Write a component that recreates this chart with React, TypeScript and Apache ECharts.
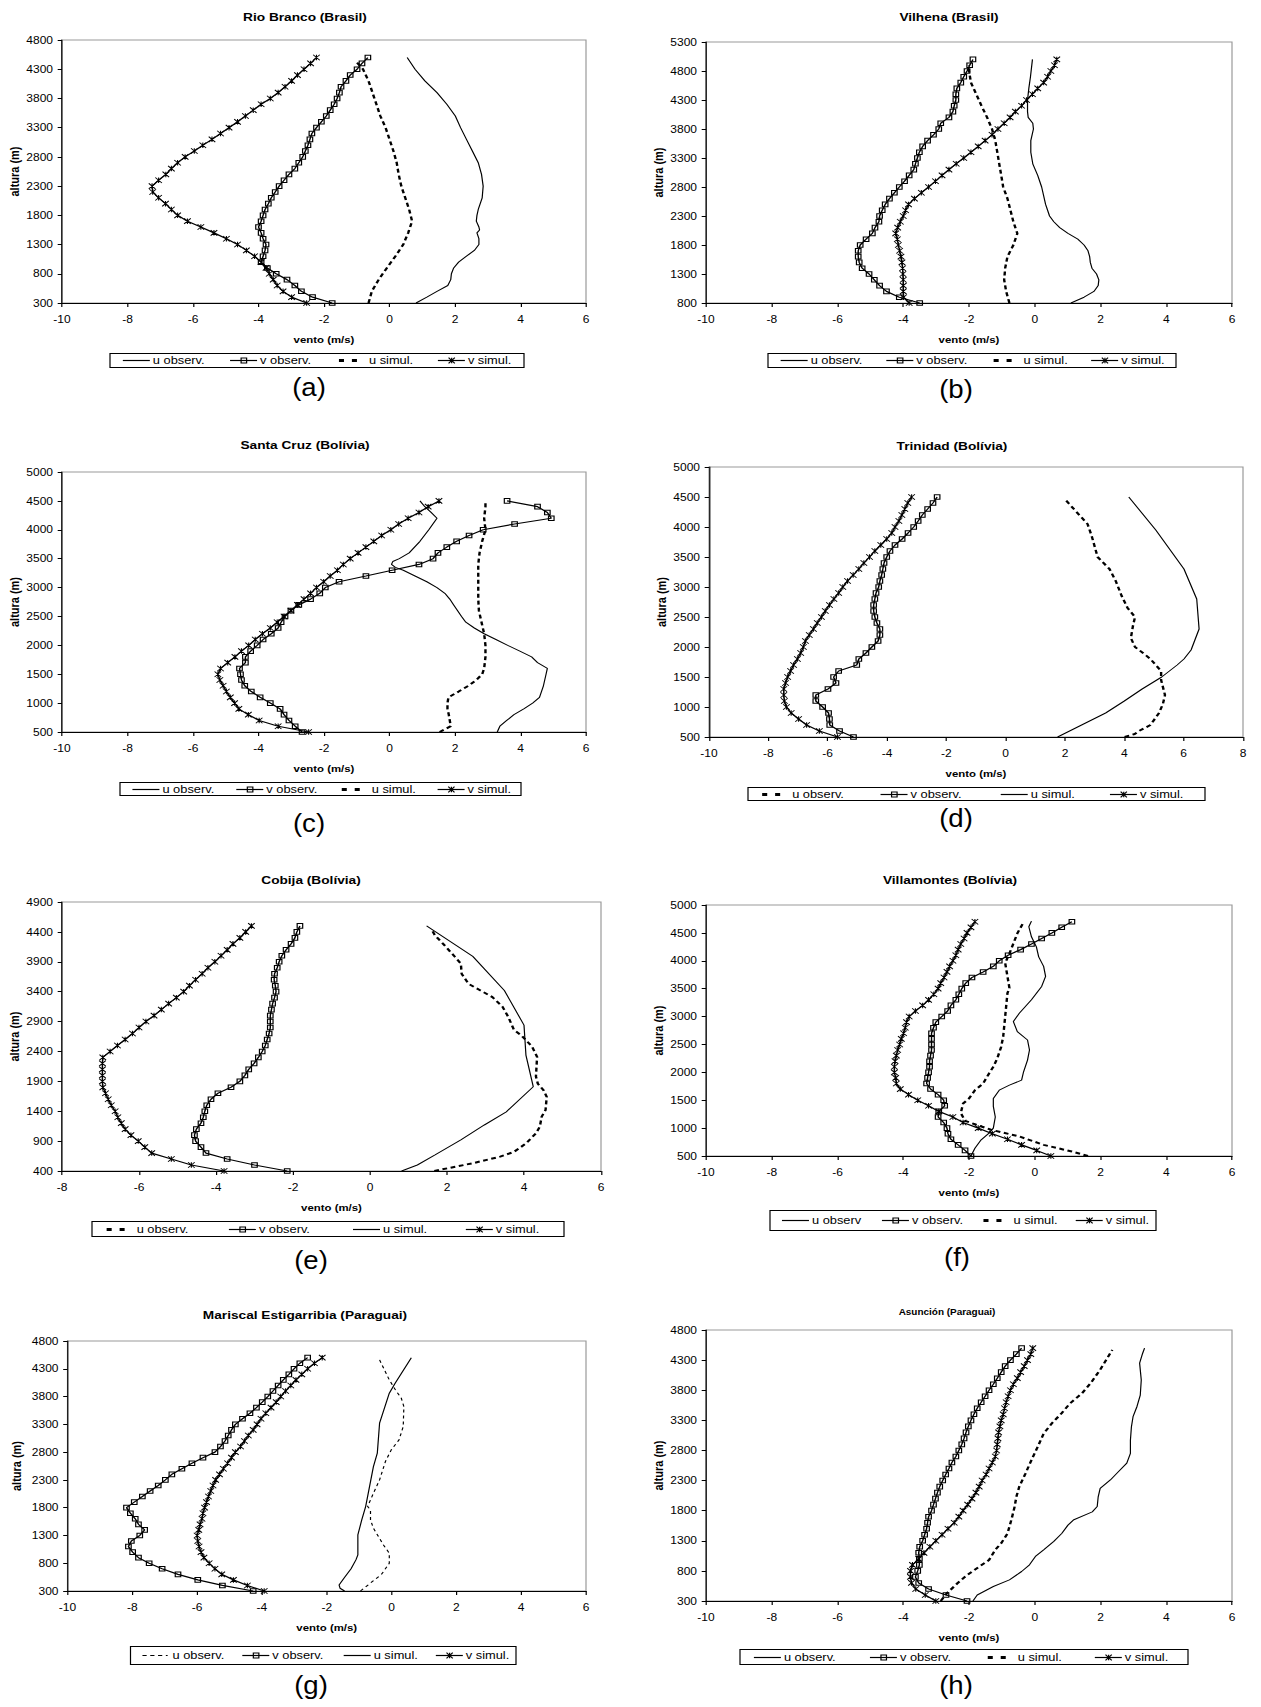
import React, { useEffect, useRef } from "react";
import * as echarts from "echarts";

// ---------- shared height lists (m) ----------
const H300_4500 = [300,400,500,600,700,800,900,1000,1100,1200,1300,1400,1500,1600,1700,1800,1900,2000,2100,2200,2300,2400,2500,2600,2700,2800,2900,3000,3100,3200,3300,3400,3500,3600,3700,3800,3900,4000,4100,4200,4300,4400,4500];
const H500_4500 = [500,600,700,800,900,1000,1100,1200,1300,1400,1500,1600,1700,1800,1900,2000,2100,2200,2300,2400,2500,2600,2700,2800,2900,3000,3100,3200,3300,3400,3500,3600,3700,3800,3900,4000,4100,4200,4300,4400,4500];
const H800_5000 = [800,900,1000,1100,1200,1300,1400,1500,1600,1700,1800,1900,2000,2100,2200,2300,2400,2500,2600,2700,2800,2900,3000,3100,3200,3300,3400,3500,3600,3700,3800,3900,4000,4100,4200,4300,4400,4500,4600,4700,4800,4900,5000];
const H400_4500 = [400,500,600,700,800,900,1000,1100,1200,1300,1400,1500,1600,1700,1800,1900,2000,2100,2200,2300,2400,2500,2600,2700,2800,2900,3000,3100,3200,3300,3400,3500,3600,3700,3800,3900,4000,4100,4200,4300,4400,4500];
const H500_4700 = [500,600,700,800,900,1000,1100,1200,1300,1400,1500,1600,1700,1800,1900,2000,2100,2200,2300,2400,2500,2600,2700,2800,2900,3000,3100,3200,3300,3400,3500,3600,3700,3800,3900,4000,4100,4200,4300,4400,4500,4600,4700];

// ---------- (a) Rio Branco ----------
const A_UOBS_H = [300,400,500,600,700,800,900,1000,1100,1200,1300,1400,1500,1550,1600,1700,1800,1900,2000,2100,2300,2500,2700,2900,3100,3300,3500,3700,3900,4100,4300,4500];
const A_UOBS = [0.81,1.14,1.45,1.78,1.87,1.89,1.96,2.11,2.35,2.59,2.73,2.73,2.67,2.75,2.73,2.65,2.67,2.71,2.77,2.83,2.86,2.81,2.71,2.53,2.35,2.17,2.01,1.75,1.45,1.08,0.78,0.54];
const A_VOBS = [-1.75,-2.35,-2.69,-2.89,-3.13,-3.46,-3.73,-3.92,-3.86,-3.80,-3.77,-3.86,-3.92,-4.0,-3.92,-3.86,-3.80,-3.70,-3.61,-3.49,-3.37,-3.22,-3.07,-2.89,-2.77,-2.65,-2.57,-2.49,-2.43,-2.37,-2.23,-2.08,-1.93,-1.81,-1.69,-1.60,-1.53,-1.48,-1.33,-1.20,-0.99,-0.84,-0.66];
const A_USIM_H = [300,500,700,900,1100,1300,1500,1700,1900,2100,2300,2500,2700,2900,3100,3300,3500,3700,3900,4100,4300,4450];
const A_USIM = [-0.64,-0.54,-0.33,-0.08,0.18,0.42,0.57,0.69,0.60,0.48,0.36,0.28,0.22,0.12,0,-0.12,-0.28,-0.40,-0.52,-0.64,-0.81,-1.05];
const A_VSIM = [-2.53,-2.99,-3.25,-3.43,-3.55,-3.67,-3.77,-3.92,-4.12,-4.37,-4.64,-4.98,-5.36,-5.76,-6.17,-6.47,-6.66,-6.84,-7.05,-7.23,-7.25,-7.05,-6.83,-6.66,-6.47,-6.24,-5.96,-5.70,-5.42,-5.16,-4.90,-4.64,-4.40,-4.16,-3.92,-3.64,-3.40,-3.19,-2.99,-2.81,-2.61,-2.41,-2.23];

// ---------- (b) Vilhena ----------
const B_UOBS_H = [800,900,1000,1100,1200,1300,1400,1500,1600,1700,1800,1900,2000,2100,2200,2300,2500,2800,3000,3200,3400,3600,3800,3900,4000,4100,4300,4500,4700,5000];
const B_UOBS = [1.10,1.50,1.80,1.93,1.95,1.88,1.74,1.69,1.67,1.62,1.50,1.31,1.01,0.76,0.58,0.45,0.33,0.21,0.09,-0.06,-0.12,-0.12,-0.04,-0.06,-0.20,-0.22,-0.22,-0.18,-0.13,-0.07];
const B_VOBS = [-3.50,-4.12,-4.51,-4.72,-4.88,-5.04,-5.25,-5.34,-5.37,-5.37,-5.31,-5.13,-4.94,-4.86,-4.74,-4.72,-4.64,-4.55,-4.42,-4.27,-4.12,-3.96,-3.82,-3.68,-3.63,-3.57,-3.51,-3.41,-3.26,-3.08,-2.92,-2.86,-2.61,-2.49,-2.45,-2.40,-2.40,-2.37,-2.25,-2.16,-2.06,-1.98,-1.88];
const B_USIM_H = [800,1000,1200,1400,1600,1800,2000,2200,2400,2600,2800,3000,3200,3400,3600,3800,4000,4200,4400,4600,4800,4900];
const B_USIM = [-0.77,-0.87,-0.93,-0.90,-0.83,-0.65,-0.53,-0.65,-0.74,-0.83,-0.96,-1.02,-1.08,-1.14,-1.20,-1.30,-1.45,-1.62,-1.78,-1.94,-2.0,-2.0];
const B_VSIM = [-3.82,-3.99,-4.0,-4.0,-4.0,-4.01,-4.02,-4.04,-4.07,-4.11,-4.15,-4.18,-4.23,-4.17,-4.09,-4.0,-3.93,-3.84,-3.66,-3.45,-3.23,-3.02,-2.82,-2.61,-2.39,-2.16,-1.94,-1.72,-1.51,-1.30,-1.12,-0.93,-0.75,-0.59,-0.40,-0.25,-0.07,0.09,0.27,0.39,0.49,0.60,0.67];

// ---------- (c) Santa Cruz ----------
const C_UOBS_H = [500,600,700,800,900,1000,1100,1200,1300,1400,1500,1600,1700,1800,1900,2000,2100,2200,2300,2400,2500,2600,2700,2800,2900,3000,3100,3200,3300,3350,3400,3450,3500,3600,3800,4000,4200,4300,4400,4500];
const C_UOBS = [3.29,3.37,3.58,3.80,4.10,4.37,4.58,4.64,4.70,4.74,4.78,4.82,4.52,4.34,3.98,3.61,3.25,2.89,2.59,2.33,2.20,2.08,1.96,1.84,1.69,1.45,1.14,0.78,0.42,0.18,0.06,0.10,0.30,0.60,0.93,1.20,1.45,1.27,1.08,0.93];
const C_VOBS = [-2.67,-2.88,-3.07,-3.22,-3.34,-3.64,-3.95,-4.22,-4.42,-4.52,-4.55,-4.58,-4.40,-4.40,-4.24,-4.04,-3.86,-3.61,-3.40,-3.31,-3.19,-3.01,-2.77,-2.41,-2.13,-1.96,-1.54,-0.72,0.08,0.90,1.33,1.48,1.75,2.05,2.43,2.86,3.82,4.94,4.82,4.52,3.59];
const C_USIM_H = [500,550,600,700,800,900,1000,1100,1200,1300,1400,1500,1600,1800,2000,2200,2400,2600,2800,3000,3200,3400,3600,3800,4000,4200,4400,4500];
const C_USIM = [1.53,1.70,1.87,1.84,1.81,1.77,1.77,1.80,2.11,2.41,2.65,2.83,2.89,2.93,2.93,2.89,2.81,2.73,2.71,2.71,2.71,2.71,2.75,2.83,2.93,2.89,2.93,2.93];
const C_VSIM = [-2.47,-3.40,-3.98,-4.31,-4.60,-4.73,-4.86,-4.98,-5.08,-5.18,-5.24,-5.16,-4.94,-4.72,-4.52,-4.30,-4.10,-3.88,-3.64,-3.43,-3.22,-3.01,-2.81,-2.61,-2.41,-2.23,-2.01,-1.81,-1.59,-1.41,-1.20,-0.96,-0.72,-0.48,-0.24,0.04,0.28,0.57,0.90,1.18,1.51];

// ---------- (d) Trinidad ----------
const D_UOBS_H = [500,550,600,700,900,1050,1200,1450,1600,1800,1900,2000,2150,2350,2500,2650,2850,3100,3300,3500,3850,4050,4450];
const D_UOBS = [4.01,4.35,4.49,4.88,5.17,5.30,5.37,5.24,5.24,4.88,4.63,4.36,4.22,4.29,4.36,4.11,3.91,3.71,3.50,3.10,2.90,2.76,2.02];
const D_VOBS = [-5.13,-5.60,-5.93,-5.94,-5.97,-6.17,-6.40,-6.40,-5.99,-5.72,-5.80,-5.63,-5.02,-4.95,-4.71,-4.51,-4.30,-4.24,-4.24,-4.34,-4.41,-4.45,-4.45,-4.41,-4.37,-4.28,-4.24,-4.18,-4.14,-4.10,-4.01,-3.90,-3.73,-3.49,-3.29,-3.10,-2.95,-2.81,-2.63,-2.45,-2.31];
const D_USIM_H = [500,700,900,1100,1300,1500,1700,1800,1950,2300,2800,3300,3950,4500];
const D_USIM = [1.75,2.56,3.37,4.0,4.6,5.26,5.78,6.01,6.25,6.52,6.44,6.01,5.06,4.15];
const D_VSIM = [-5.67,-6.28,-6.71,-6.98,-7.23,-7.39,-7.46,-7.48,-7.48,-7.42,-7.35,-7.25,-7.15,-7.02,-6.91,-6.82,-6.75,-6.62,-6.48,-6.35,-6.21,-6.08,-5.94,-5.79,-5.63,-5.49,-5.33,-5.14,-4.95,-4.78,-4.59,-4.41,-4.21,-4.01,-3.84,-3.73,-3.60,-3.50,-3.40,-3.30,-3.17];

// ---------- (e) Cobija ----------
const E_UOBS_H = [400,450,530,640,720,860,1030,1140,1310,1420,1640,1750,1860,1980,2310,2480,2590,2670,2760,2980,3150,3310,3420,3530,3700,3870,3980,4200,4340,4450];
const E_UOBS = [1.67,2.05,2.67,3.38,3.74,4.05,4.31,4.41,4.46,4.56,4.59,4.51,4.36,4.31,4.34,4.21,4.05,3.93,3.74,3.59,3.44,3.18,2.87,2.56,2.38,2.36,2.21,1.90,1.69,1.59];
const E_VOBS = [-2.15,-3.0,-3.71,-4.26,-4.39,-4.53,-4.56,-4.51,-4.39,-4.33,-4.29,-4.24,-4.13,-3.95,-3.61,-3.38,-3.25,-3.15,-3.01,-2.90,-2.80,-2.72,-2.67,-2.62,-2.59,-2.59,-2.59,-2.56,-2.53,-2.48,-2.44,-2.46,-2.49,-2.48,-2.41,-2.36,-2.29,-2.18,-2.05,-1.95,-1.90,-1.82];
const E_USIM_H = [400,500,670,920,1170,1390,1810,2340,2640,2840,3420,3990,4500];
const E_USIM = [0.82,1.23,1.69,2.36,2.97,3.54,4.24,4.05,4.02,4.0,3.49,2.67,1.47];
const E_VSIM = [-3.79,-4.64,-5.16,-5.67,-5.85,-6.02,-6.21,-6.36,-6.46,-6.55,-6.62,-6.72,-6.80,-6.87,-6.94,-6.95,-6.95,-6.95,-6.95,-6.94,-6.75,-6.56,-6.36,-6.17,-6.0,-5.82,-5.61,-5.42,-5.23,-5.03,-4.84,-4.69,-4.53,-4.36,-4.21,-4.03,-3.87,-3.71,-3.56,-3.38,-3.23,-3.08];

// ---------- (f) Villamontes ----------
const F_UOBS_H = [500,640,790,910,1000,1200,1390,1530,1680,1770,1860,2010,2220,2400,2580,2730,2910,3060,3300,3540,3720,3900,4070,4250,4430,4610,4710];
const F_UOBS = [-1.94,-1.82,-1.63,-1.39,-1.26,-1.20,-1.26,-1.26,-1.08,-0.77,-0.40,-0.34,-0.22,-0.16,-0.22,-0.53,-0.65,-0.47,-0.10,0.21,0.33,0.27,0.12,0.05,-0.10,-0.18,-0.10];
const F_VOBS = [-1.94,-2.12,-2.33,-2.55,-2.64,-2.67,-2.77,-2.94,-2.92,-2.74,-2.77,-2.94,-3.17,-3.29,-3.26,-3.23,-3.20,-3.20,-3.17,-3.14,-3.14,-3.14,-3.14,-3.08,-3.01,-2.83,-2.65,-2.55,-2.40,-2.31,-2.22,-2.10,-1.91,-1.57,-1.26,-1.08,-0.81,-0.43,-0.10,0.21,0.52,0.82,1.13];
const F_USIM_H = [500,580,700,850,970,1070,1130,1270,1440,1530,1680,1800,1980,2100,2250,2460,2640,3000,3420,3510,3720,3960,4130,4490,4660];
const F_USIM = [1.62,1.13,0.27,-0.47,-1.33,-1.82,-2.12,-2.25,-2.18,-2.0,-1.82,-1.57,-1.39,-1.26,-1.14,-1.02,-0.96,-0.90,-0.83,-0.77,-0.83,-0.90,-0.77,-0.53,-0.37];
const F_VSIM = [0.49,0.06,-0.40,-0.83,-1.29,-1.72,-2.18,-2.49,-2.92,-3.23,-3.56,-3.84,-4.09,-4.21,-4.23,-4.27,-4.27,-4.25,-4.21,-4.17,-4.11,-4.06,-3.99,-3.94,-3.90,-3.82,-3.63,-3.41,-3.23,-3.07,-2.94,-2.86,-2.76,-2.67,-2.59,-2.49,-2.40,-2.33,-2.25,-2.15,-2.06,-1.94,-1.82];

// ---------- (g) Mariscal Estigarribia ----------
const G_UOBS_H = [300,600,800,980,1130,1430,1580,1760,1820,2060,2300,2630,2840,3020,3260,3620,3770,3920,4100,4460];
const G_UOBS = [-0.96,-0.31,-0.07,-0.07,-0.25,-0.56,-0.65,-0.65,-0.74,-0.56,-0.37,-0.19,-0.01,0.23,0.36,0.38,0.30,0.12,-0.07,-0.37];
const G_VOBS = [-4.27,-5.22,-5.98,-6.59,-7.08,-7.48,-7.81,-7.99,-8.12,-8.03,-7.77,-7.62,-7.81,-7.91,-8.06,-8.18,-7.94,-7.69,-7.45,-7.20,-6.98,-6.78,-6.47,-6.16,-5.82,-5.45,-5.28,-5.14,-5.04,-4.94,-4.82,-4.60,-4.37,-4.17,-3.99,-3.82,-3.66,-3.50,-3.34,-3.17,-3.01,-2.83,-2.59];
const G_USIM_H = [300,350,410,530,700,860,950,1310,1580,1820,2180,2540,2780,3320,3500,3860,4040,4500];
const G_USIM = [-1.45,-1.59,-1.62,-1.47,-1.25,-1.10,-1.04,-1.04,-0.92,-0.80,-0.68,-0.56,-0.44,-0.37,-0.27,-0.07,0.11,0.61];
const G_VSIM = [-3.93,-4.45,-4.88,-5.24,-5.45,-5.63,-5.79,-5.88,-5.94,-5.98,-6.0,-5.95,-5.91,-5.85,-5.82,-5.77,-5.71,-5.65,-5.58,-5.51,-5.43,-5.31,-5.19,-5.06,-4.94,-4.82,-4.66,-4.54,-4.42,-4.27,-4.15,-4.03,-3.88,-3.72,-3.56,-3.42,-3.27,-3.11,-2.95,-2.77,-2.59,-2.38,-2.14];

// ---------- (h) Asunción ----------
const H_UOBS_H = [300,400,540,650,790,900,1040,1150,1290,1420,1560,1650,1780,1870,2030,2170,2310,2450,2590,2750,2970,3190,3360,3530,3720,3970,4250,4410,4500];
const H_UOBS = [-1.88,-1.75,-1.26,-0.77,-0.40,-0.16,0.02,0.27,0.58,0.82,1.01,1.19,1.75,1.90,1.93,1.99,2.30,2.55,2.80,2.91,2.91,2.94,2.99,3.11,3.21,3.24,3.19,3.28,3.34];
const H_VOBS = [-2.06,-2.70,-3.23,-3.53,-3.63,-3.56,-3.51,-3.51,-3.53,-3.50,-3.41,-3.35,-3.29,-3.26,-3.23,-3.14,-3.08,-3.02,-2.96,-2.89,-2.80,-2.71,-2.61,-2.52,-2.40,-2.31,-2.22,-2.15,-2.09,-2.02,-1.94,-1.85,-1.75,-1.63,-1.51,-1.39,-1.26,-1.14,-1.02,-0.90,-0.74,-0.56,-0.40];
const H_USIM_H = [300,430,590,730,870,980,1150,1260,1420,1650,1870,2030,2200,2420,2640,2860,3080,3250,3420,3580,3750,3910,4140,4470];
const H_USIM = [-2.86,-2.67,-2.36,-2.06,-1.69,-1.39,-1.20,-1.02,-0.83,-0.71,-0.61,-0.56,-0.47,-0.28,-0.10,0.09,0.27,0.52,0.82,1.07,1.44,1.69,1.99,2.36];
const H_VSIM = [-3.01,-3.33,-3.62,-3.75,-3.78,-3.78,-3.72,-3.53,-3.37,-3.19,-3.01,-2.82,-2.64,-2.45,-2.31,-2.18,-2.04,-1.91,-1.79,-1.69,-1.60,-1.48,-1.39,-1.29,-1.20,-1.16,-1.14,-1.12,-1.10,-1.06,-1.02,-0.96,-0.92,-0.87,-0.81,-0.74,-0.65,-0.53,-0.43,-0.32,-0.22,-0.12,-0.06];

// ---------- layout / styling ----------
// The reference page is horizontally stretched; the chart is drawn at 1/S width and stretched by S.
const S = 1.2;
const PAGE_W = 1261;
const PAGE_H = 1707;
const X = (v: number) => v / S;
const FONT = "'Liberation Sans', Arial, Helvetica, sans-serif";
const STAR = "path://M0,0L10,10M0,10L10,0M5,0L5,10";

type Kind = "solid" | "dash" | "thin" | "square" | "star";
interface Ser { name: string; kind: Kind; h: number[]; v: number[] }
interface Panel {
  title: string; tx: number; ty: number; tsize: number;
  label: string; lx: number; ly: number;
  grid: number[]; // page px: left, top, right, bottom
  xMin: number; xMax: number; yMin: number; yMax: number;
  yGap: number;
  legend: number[]; // page px: x0, y0, x1, y1
  series: Ser[];
}

const PANELS: Panel[] = [
  { title: "Rio Branco (Brasil)", tx: 305, ty: 17, tsize: 11.4, label: "(a)", lx: 309, ly: 387,
    grid: [62, 40, 586, 303], xMin: -10, xMax: 6, yMin: 300, yMax: 4800, yGap: 32, legend: [110, 353, 524, 367],
    series: [
      { name: "u observ.", kind: "solid", h: A_UOBS_H, v: A_UOBS },
      { name: "v observ.", kind: "square", h: H300_4500, v: A_VOBS },
      { name: "u simul.", kind: "dash", h: A_USIM_H, v: A_USIM },
      { name: "v simul.", kind: "star", h: H300_4500, v: A_VSIM },
    ] },
  { title: "Vilhena (Brasil)", tx: 949, ty: 17, tsize: 11.4, label: "(b)", lx: 956, ly: 389,
    grid: [706, 42, 1232, 303], xMin: -10, xMax: 6, yMin: 800, yMax: 5300, yGap: 30, legend: [768, 353, 1176, 367],
    series: [
      { name: "u observ.", kind: "solid", h: B_UOBS_H, v: B_UOBS },
      { name: "v observ.", kind: "square", h: H800_5000, v: B_VOBS },
      { name: "u simul.", kind: "dash", h: B_USIM_H, v: B_USIM },
      { name: "v simul.", kind: "star", h: H800_5000, v: B_VSIM },
    ] },
  { title: "Santa Cruz (Bolívia)", tx: 305, ty: 445, tsize: 11.4, label: "(c)", lx: 309, ly: 823,
    grid: [62, 472, 586, 732], xMin: -10, xMax: 6, yMin: 500, yMax: 5000, yGap: 32, legend: [120, 782, 521, 795],
    series: [
      { name: "u observ.", kind: "solid", h: C_UOBS_H, v: C_UOBS },
      { name: "v observ.", kind: "square", h: H500_4500, v: C_VOBS },
      { name: "u simul.", kind: "dash", h: C_USIM_H, v: C_USIM },
      { name: "v simul.", kind: "star", h: H500_4500, v: C_VSIM },
    ] },
  { title: "Trinidad (Bolívia)", tx: 952, ty: 446, tsize: 11.4, label: "(d)", lx: 956, ly: 818,
    grid: [709, 467, 1243, 737], xMin: -10, xMax: 8, yMin: 500, yMax: 5000, yGap: 32, legend: [748, 787, 1205, 800],
    series: [
      { name: "u observ.", kind: "dash", h: D_UOBS_H, v: D_UOBS },
      { name: "v observ.", kind: "square", h: H500_4500, v: D_VOBS },
      { name: "u simul.", kind: "solid", h: D_USIM_H, v: D_USIM },
      { name: "v simul.", kind: "star", h: H500_4500, v: D_VSIM },
    ] },
  { title: "Cobija (Bolívia)", tx: 311, ty: 880, tsize: 11.4, label: "(e)", lx: 311, ly: 1260,
    grid: [62, 902, 601, 1171], xMin: -8, xMax: 6, yMin: 400, yMax: 4900, yGap: 32, legend: [92, 1221, 564, 1236],
    series: [
      { name: "u observ.", kind: "dash", h: E_UOBS_H, v: E_UOBS },
      { name: "v observ.", kind: "square", h: H400_4500, v: E_VOBS },
      { name: "u simul.", kind: "solid", h: E_USIM_H, v: E_USIM },
      { name: "v simul.", kind: "star", h: H400_4500, v: E_VSIM },
    ] },
  { title: "Villamontes (Bolívia)", tx: 950, ty: 880, tsize: 11.4, label: "(f)", lx: 957, ly: 1257,
    grid: [706, 905, 1232, 1156], xMin: -10, xMax: 6, yMin: 500, yMax: 5000, yGap: 30, legend: [770, 1210, 1156, 1230],
    series: [
      { name: "u observ", kind: "solid", h: F_UOBS_H, v: F_UOBS },
      { name: "v observ.", kind: "square", h: H500_4700, v: F_VOBS },
      { name: "u simul.", kind: "dash", h: F_USIM_H, v: F_USIM },
      { name: "v simul.", kind: "star", h: H500_4700, v: F_VSIM },
    ] },
  { title: "Mariscal Estigarribia (Paraguai)", tx: 305, ty: 1315, tsize: 11.4, label: "(g)", lx: 311, ly: 1685,
    grid: [67.5, 1341, 586, 1591], xMin: -10, xMax: 6, yMin: 300, yMax: 4800, yGap: 36.5, legend: [130.5, 1646, 516, 1664],
    series: [
      { name: "u observ.", kind: "thin", h: G_UOBS_H, v: G_UOBS },
      { name: "v observ.", kind: "square", h: H300_4500, v: G_VOBS },
      { name: "u simul.", kind: "solid", h: G_USIM_H, v: G_USIM },
      { name: "v simul.", kind: "star", h: H300_4500, v: G_VSIM },
    ] },
  { title: "Asunción (Paraguai)", tx: 947, ty: 1312, tsize: 8.3, label: "(h)", lx: 956, ly: 1685,
    grid: [706, 1330, 1232, 1601], xMin: -10, xMax: 6, yMin: 300, yMax: 4800, yGap: 30, legend: [740, 1649, 1188, 1664],
    series: [
      { name: "u observ.", kind: "solid", h: H_UOBS_H, v: H_UOBS },
      { name: "v observ.", kind: "square", h: H300_4500, v: H_VOBS },
      { name: "u simul.", kind: "dash", h: H_USIM_H, v: H_USIM },
      { name: "v simul.", kind: "star", h: H300_4500, v: H_VSIM },
    ] },
];

function lineSeries(s: Ser, i: number) {
  const base: any = {
    type: "line",
    name: s.name,
    xAxisIndex: i,
    yAxisIndex: i,
    data: s.h.map((h, k) => [s.v[k], h]),
    silent: true,
    smooth: false,
    animation: false,
  };
  if (s.kind === "square") {
    return { ...base, symbol: "rect", symbolSize: 4.6, z: 4,
      lineStyle: { color: "#000", width: 1.2 },
      itemStyle: { color: "rgba(255,255,255,0)", borderColor: "#000", borderWidth: 1 } };
  }
  if (s.kind === "star") {
    return { ...base, symbol: STAR, symbolSize: 5.5, symbolKeepAspect: true, z: 4,
      lineStyle: { color: "#000", width: 1.2 },
      itemStyle: { color: "#000", borderColor: "#000", borderWidth: 0.9 } };
  }
  if (s.kind === "dash") {
    return { ...base, symbol: "none", z: 3, lineStyle: { color: "#000", width: 2, type: [4, 3] }, itemStyle: { color: "#000" } };
  }
  if (s.kind === "thin") {
    return { ...base, symbol: "none", z: 3, lineStyle: { color: "#000", width: 1, type: [3, 3] }, itemStyle: { color: "#000" } };
  }
  return { ...base, symbol: "none", z: 3, lineStyle: { color: "#000", width: 1 }, itemStyle: { color: "#000" } };
}

function legendEls(p: Panel) {
  const x0 = X(p.legend[0]);
  const x1 = X(p.legend[2]);
  const y0 = p.legend[1];
  const y1 = p.legend[3];
  const els: any[] = [
    { type: "rect", shape: { x: x0, y: y0 + 0.5, width: x1 - x0, height: y1 - y0 },
      style: { fill: "#fff", stroke: "#000", lineWidth: 1 } },
  ];
  const cy = Math.round((y0 + y1) / 2) + 0.5;
  const fr = [0.031, 0.29, 0.553, 0.792];
  p.series.forEach((s, i) => {
    const sx = x0 + (x1 - x0) * fr[i];
    if (s.kind === "dash") {
      els.push({ type: "line", shape: { x1: sx, y1: cy, x2: sx + 15, y2: cy }, style: { stroke: "#000", lineWidth: 3, lineDash: [4.2, 6.6] } });
    } else if (s.kind === "thin") {
      els.push({ type: "line", shape: { x1: sx, y1: cy, x2: sx + 21, y2: cy }, style: { stroke: "#000", lineWidth: 1, lineDash: [3.5, 3] } });
    } else {
      els.push({ type: "line", shape: { x1: sx, y1: cy, x2: sx + 22.5, y2: cy }, style: { stroke: "#000", lineWidth: 1.2 } });
    }
    const mx = sx + 11.5;
    if (s.kind === "square") {
      els.push({ type: "rect", shape: { x: mx - 2.3, y: cy - 2.5, width: 4.6, height: 5 }, style: { fill: "rgba(255,255,255,0)", stroke: "#000", lineWidth: 1 } });
    }
    if (s.kind === "star") {
      els.push({ type: "line", shape: { x1: mx - 2.6, y1: cy - 2.8, x2: mx + 2.6, y2: cy + 2.8 }, style: { stroke: "#000", lineWidth: 1 } });
      els.push({ type: "line", shape: { x1: mx - 2.6, y1: cy + 2.8, x2: mx + 2.6, y2: cy - 2.8 }, style: { stroke: "#000", lineWidth: 1 } });
      els.push({ type: "line", shape: { x1: mx, y1: cy - 2.8, x2: mx, y2: cy + 2.8 }, style: { stroke: "#000", lineWidth: 1 } });
    }
    els.push({ type: "text", x: sx + 25, y: cy,
      style: { text: s.name, fontSize: 10.7, fontFamily: FONT, fill: "#000", align: "left", verticalAlign: "middle", textAlign: "left", textVerticalAlign: "middle" } });
  });
  return els;
}

function buildOption() {
  const grid = PANELS.map((p) => ({
    left: X(p.grid[0]), top: p.grid[1], width: X(p.grid[2] - p.grid[0]), height: p.grid[3] - p.grid[1],
    show: true, borderColor: "#9a9a9a", borderWidth: 1, backgroundColor: "transparent",
    containLabel: false, outerBoundsMode: "none",
  }));
  const tickFont = { fontFamily: FONT, fontSize: 10, color: "#000" };
  const xName = { fontFamily: FONT, fontSize: 9.5, fontWeight: "bold" as const, color: "#000" };
  const yName = { fontFamily: FONT, fontSize: 11, fontWeight: "bold" as const, color: "#000" };
  const fmt = (v: number) => String(v);
  const xAxis = PANELS.map((p, i) => ({
    type: "value", gridIndex: i, min: p.xMin, max: p.xMax, interval: 2,
    name: "vento (m/s)", nameLocation: "middle", nameGap: 32, nameTextStyle: xName,
    axisLine: { show: true, onZero: false, lineStyle: { color: "#000", width: 1 } },
    axisTick: { show: true, inside: false, length: 4, lineStyle: { color: "#000", width: 1 } },
    axisLabel: { ...tickFont, margin: 11, formatter: fmt, showMinLabel: true, showMaxLabel: true },
    splitLine: { show: false },
  }));
  const yAxis = PANELS.map((p, i) => ({
    type: "value", gridIndex: i, min: p.yMin, max: p.yMax, interval: 500,
    name: "altura (m)", nameLocation: "middle", nameGap: p.yGap, nameTextStyle: yName,
    axisLine: { show: true, onZero: false, lineStyle: { color: "#000", width: 1 } },
    axisTick: { show: true, inside: false, length: 3.6, lineStyle: { color: "#000", width: 1 } },
    axisLabel: { ...tickFont, margin: 7.5, formatter: fmt, showMinLabel: true, showMaxLabel: true },
    splitLine: { show: false },
  }));
  const series: any[] = [];
  PANELS.forEach((p, i) => p.series.forEach((s) => series.push(lineSeries(s, i))));

  const elements: any[] = [];
  PANELS.forEach((p) => {
    elements.push({ type: "text", x: X(p.tx), y: p.ty,
      style: { text: p.title, fontSize: p.tsize, fontWeight: "bold", fontFamily: FONT, fill: "#000",
        align: "center", verticalAlign: "middle", textAlign: "center", textVerticalAlign: "middle" } });
    elements.push({ type: "text", x: X(p.lx), y: p.ly, scaleX: 0.92,
      style: { text: p.label, fontSize: 25, fontFamily: FONT, fill: "#000",
        align: "center", verticalAlign: "middle", textAlign: "center", textVerticalAlign: "middle" } });
    legendEls(p).forEach((e) => elements.push(e));
  });

  return {
    animation: false,
    backgroundColor: "#fff",
    grid, xAxis, yAxis, series,
    graphic: { elements },
  };
}

export default function App() {
  const ref = useRef<HTMLDivElement | null>(null);
  useEffect(() => {
    if (!ref.current) return;
    const chart = echarts.init(ref.current, null, { renderer: "svg" });
    chart.setOption(buildOption() as any);
    return () => chart.dispose();
  }, []);
  return (
    <div style={{ position: "absolute", left: 0, top: 0, width: PAGE_W, height: PAGE_H, overflow: "hidden", background: "#fff" }}>
      <div
        ref={ref}
        style={{
          position: "absolute", left: 0, top: 0,
          width: Math.round(PAGE_W / S), height: PAGE_H,
          transform: `scaleX(${S})`, transformOrigin: "0 0",
        }}
      />
    </div>
  );
}
